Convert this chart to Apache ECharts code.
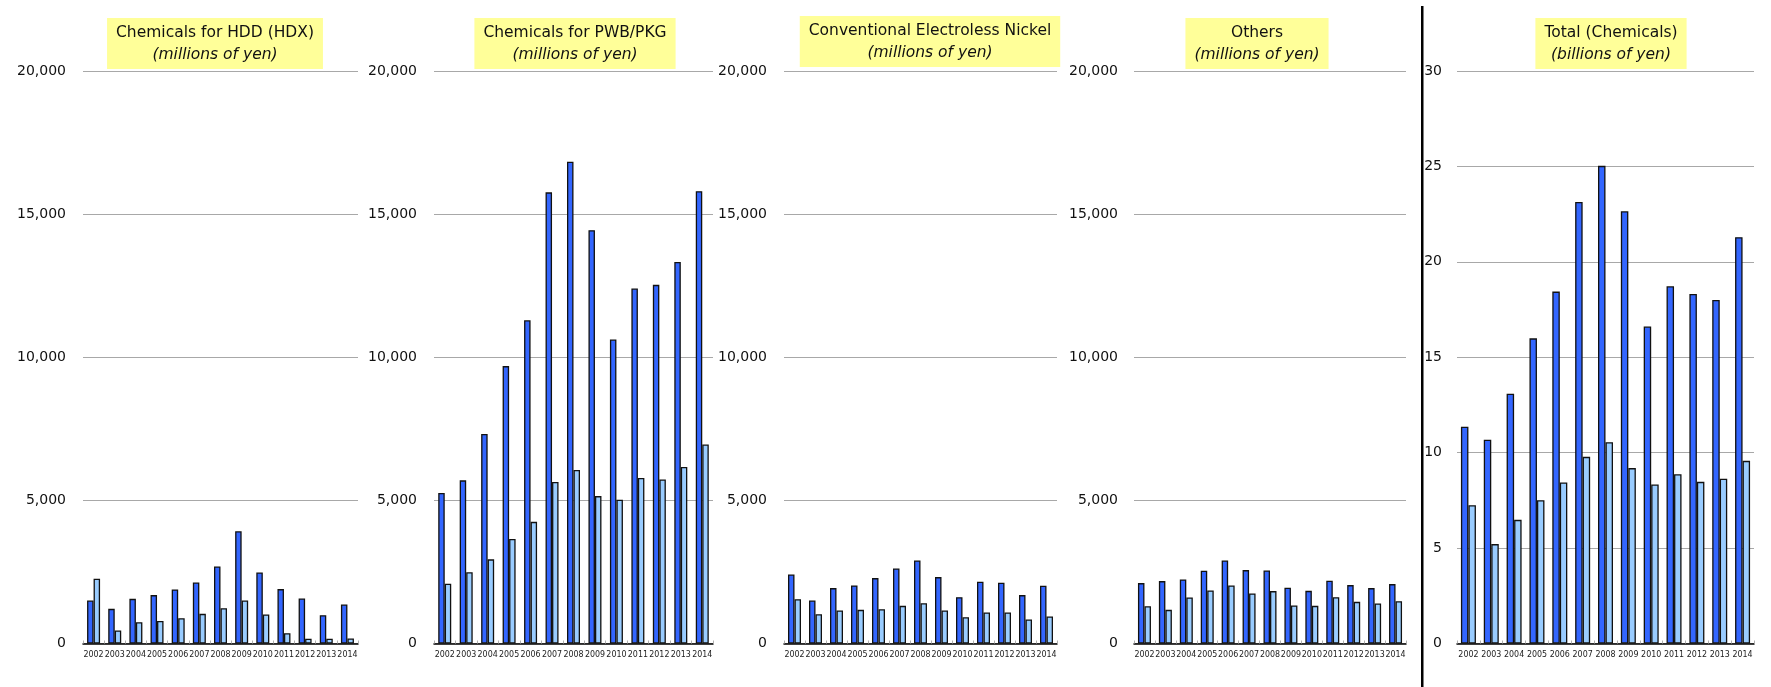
<!DOCTYPE html>
<html>
<head>
<meta charset="utf-8">
<script src="https://cdn.jsdelivr.net/npm/echarts@6/dist/echarts.min.js"></script>
<style>
  html, body { margin: 0; padding: 0; background: #fff; }
  #chart { width: 1771px; height: 687px; }
</style>
</head>
<body>
<div id="chart"></div>
<script>
// Fiscal years shared by all five panels
const years = ['2002', '2003', '2004', '2005', '2006', '2007', '2008', '2009', '2010', '2011', '2012', '2013', '2014'];

// Chemicals for HDD (HDX), millions of yen
const hddDark  = [1500, 1210, 1560, 1690, 1890, 2130, 2690, 3920, 2480, 1900, 1570, 990, 1360];
const hddLight = [2260, 455, 745, 790, 885, 1035, 1235, 1500, 1015, 360, 165, 165, 175];

// Chemicals for PWB/PKG, millions of yen
const pwbDark  = [5260, 5700, 7320, 9690, 11290, 15760, 16830, 14440, 10620, 12400, 12530, 13330, 15800];
const pwbLight = [2090, 2490, 2940, 3650, 4250, 5640, 6060, 5150, 5020, 5780, 5730, 6170, 6950];

// Conventional electroless nickel, millions of yen
const nickelDark  = [2410, 1500, 1935, 2030, 2285, 2620, 2900, 2320, 1620, 2155, 2120, 1690, 2015];
const nickelLight = [1550, 1025, 1155, 1175, 1200, 1315, 1410, 1155, 920, 1085, 1085, 840, 945];

// Others, millions of yen
const othersDark  = [2110, 2180, 2240, 2540, 2900, 2565, 2550, 1945, 1840, 2190, 2040, 1935, 2075];
const othersLight = [1305, 1175, 1610, 1855, 2030, 1750, 1830, 1330, 1315, 1620, 1455, 1400, 1480];

// Total chemicals, billions of yen
const totalDark  = [11.36, 10.68, 13.09, 15.99, 18.44, 23.14, 25.03, 22.65, 16.61, 18.72, 18.32, 18.0, 21.29];
const totalLight = [7.25, 5.21, 6.48, 7.51, 8.44, 9.78, 10.55, 9.19, 8.33, 8.87, 8.47, 8.63, 9.57];

// Panel titles and value-axis ranges
const panelTitles = ['Chemicals for HDD (HDX)', 'Chemicals for PWB/PKG', 'Conventional Electroless Nickel', 'Others', 'Total (Chemicals)'];
const panelUnits = ['(millions of yen)', '(millions of yen)', '(millions of yen)', '(millions of yen)', '(billions of yen)'];
const axisMax = [20000, 20000, 20000, 20000, 30];
const axisStep = [5000, 5000, 5000, 5000, 5];

const panelData = [
  [hddDark, hddLight],
  [pwbDark, pwbLight],
  [nickelDark, nickelLight],
  [othersDark, othersLight],
  [totalDark, totalLight]
];

// Layout of each plotting area
const gridBoxes = [
  { left: 83,   width: 275 },
  { left: 434,  width: 279 },
  { left: 784,  width: 273 },
  { left: 1134, width: 272 },
  { left: 1457, width: 297 }
];
const titleCenters = [206, 566, 921, 1248, 1602];
const titleTops = [18, 18, 16, 18, 18];
const labelMargins = [17, 17, 17, 16, 15];
const barWidths = [6.5, 6.5, 6.5, 6.5, 7.5];

const DARK = '#3366FF';
const LIGHT = '#99CCFF';

const grids = [], xAxes = [], yAxes = [], series = [], titles = [];

gridBoxes.forEach((g, i) => {
  grids.push({ left: g.left, width: g.width, top: 71, height: 572.5 });

  xAxes.push({
    type: 'category',
    gridIndex: i,
    data: years,
    axisLine: { lineStyle: { color: '#000', width: 1.5 } },
    axisTick: { show: true, inside: true, length: 3, lineStyle: { color: '#b0b0b0', width: 1 } },
    axisLabel: {
      interval: 0,
      margin: 7,
      fontSize: 8.8,
      fontFamily: 'DejaVu Sans Condensed, Liberation Sans, sans-serif',
      color: '#222'
    }
  });

  yAxes.push({
    type: 'value',
    gridIndex: i,
    min: 0,
    max: axisMax[i],
    interval: axisStep[i],
    axisLine: { show: false },
    axisTick: { show: false },
    splitLine: { lineStyle: { color: '#a8a8a8', width: 1 } },
    axisLabel: {
      margin: labelMargins[i],
      fontSize: 14,
      fontFamily: 'DejaVu Sans, sans-serif',
      color: '#111',
      formatter: v => v.toLocaleString('en-US')
    }
  });

  [DARK, LIGHT].forEach((color, k) => {
    series.push({
      type: 'bar',
      xAxisIndex: i,
      yAxisIndex: i,
      data: panelData[i][k],
      barWidth: barWidths[i],
      barGap: '0%',
      silent: true,
      itemStyle: {
        color: color,
        borderColor: '#111',
        borderWidth: 1.3
      }
    });
  });

  titles.push({
    text: panelTitles[i],
    subtext: panelUnits[i],
    left: titleCenters[i],
    top: titleTops[i],
    textAlign: 'center',
    itemGap: 0,
    padding: [4, 9, 3, 9],
    backgroundColor: '#FFFF99',
    textStyle: {
      fontFamily: 'DejaVu Sans, sans-serif',
      fontSize: 15.5,
      fontWeight: 'normal',
      color: '#111',
      lineHeight: 22
    },
    subtextStyle: {
      fontFamily: 'DejaVu Sans, sans-serif',
      fontSize: 15.5,
      fontStyle: 'italic',
      color: '#111',
      lineHeight: 22
    }
  });
});

const chart = echarts.init(document.getElementById('chart'), null, { renderer: 'canvas' });
chart.setOption({
  animation: false,
  backgroundColor: '#fff',
  title: titles,
  grid: grids,
  xAxis: xAxes,
  yAxis: yAxes,
  series: series,
  graphic: [{
    // divider between the segment panels and the total panel
    type: 'rect',
    shape: { x: 1421, y: 6, width: 2.5, height: 681 },
    style: { fill: '#000' },
    silent: true
  }]
});
</script>
</body>
</html>
